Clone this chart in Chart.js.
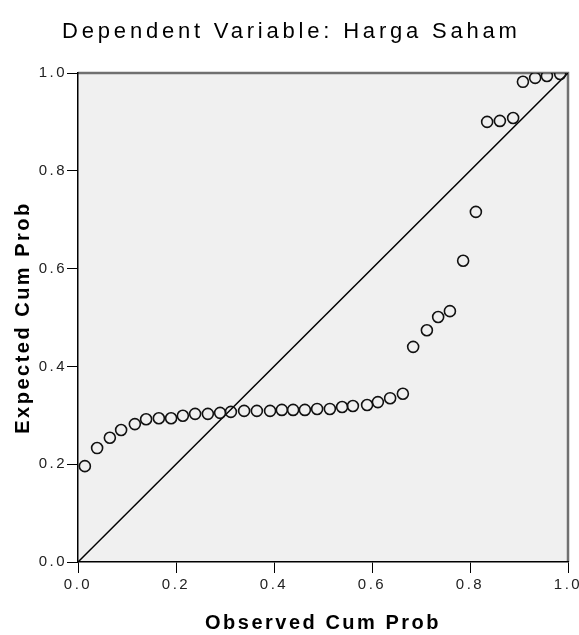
<!DOCTYPE html>
<html>
<head>
<meta charset="utf-8">
<script src="https://cdn.jsdelivr.net/npm/chart.js@4.4.1/dist/chart.umd.min.js"></script>
<style>
    html, body { margin: 0; padding: 0; background: #fff; }
    canvas { display: block; }
</style>
</head>
<body>
<canvas id="ppplot" width="579" height="635"></canvas>
<script>
// P-P plot of regression standardized residual
const chartTitle = 'Dependent Variable: Harga Saham';
const xTitle = 'Observed Cum Prob';
const yTitle = 'Expected Cum Prob';

const obsCumProb = [0.014, 0.039, 0.065, 0.088, 0.116, 0.139, 0.165, 0.190, 0.214, 0.239,
                    0.265, 0.290, 0.312, 0.339, 0.365, 0.392, 0.416, 0.439, 0.463, 0.488,
                    0.514, 0.539, 0.561, 0.590, 0.612, 0.637, 0.663, 0.684, 0.712, 0.735,
                    0.759, 0.786, 0.812, 0.835, 0.861, 0.888, 0.908, 0.933, 0.957, 0.984];
const expCumProb = [0.196, 0.233, 0.254, 0.270, 0.282, 0.292, 0.294, 0.294, 0.299, 0.303,
                    0.303, 0.305, 0.307, 0.309, 0.309, 0.309, 0.311, 0.311, 0.311, 0.313,
                    0.313, 0.317, 0.319, 0.321, 0.327, 0.335, 0.344, 0.440, 0.474, 0.501,
                    0.513, 0.616, 0.716, 0.900, 0.902, 0.908, 0.982, 0.990, 0.994, 0.998];

const refLineX = [0, 1];
const refLineY = [0, 1];

const tickValues = [0, 0.2, 0.4, 0.6, 0.8, 1.0];

window.onload = function() {
    ppplot();
};

function ppplot() {
    const ctx = document.getElementById('ppplot').getContext('2d');

    const points = obsCumProb.map((x, i) => ({ x: x, y: expCumProb[i] }));
    const line = refLineX.map((x, i) => ({ x: x, y: refLineY[i] }));

    // spss-like spaced text + grey plot frame
    const spssLook = {
        id: 'spssLook',
        beforeLayout(chart) {
            chart.ctx.letterSpacing = '2.5px';
        },
        beforeDraw(chart) {
            const c = chart.ctx;
            const a = chart.chartArea;
            c.letterSpacing = '2.5px';
            c.save();
            c.fillStyle = '#f0f0f0';
            c.fillRect(a.left, a.top, a.right - a.left, a.bottom - a.top);
            c.strokeStyle = '#707070';
            c.lineWidth = 2.5;
            c.beginPath();
            c.moveTo(a.left, a.top);
            c.lineTo(a.right, a.top);
            c.lineTo(a.right, a.bottom);
            c.stroke();
            c.restore();
        },
        afterDraw(chart) {
            const c = chart.ctx;
            c.save();
            c.letterSpacing = '3.8px';
            c.font = '22px "Liberation Sans", Arial, sans-serif';
            c.fillStyle = '#000';
            c.textAlign = 'center';
            c.textBaseline = 'alphabetic';
            c.fillText(chartTitle, chart.width / 2 + 1.9, 37.5);
            c.restore();
        }
    };

    const tickFont = { family: '"Liberation Sans", Arial, sans-serif', size: 15 };
    const titleFont = { family: '"Liberation Sans", Arial, sans-serif', size: 20, weight: 'bold' };

    new Chart(ctx, {
        type: 'scatter',
        data: {
            datasets: [
                {
                    label: 'Observed',
                    data: points,
                    pointStyle: 'circle',
                    pointRadius: 5.5,
                    pointHoverRadius: 5.5,
                    pointBorderWidth: 1.6,
                    borderColor: '#111',
                    backgroundColor: 'rgba(0,0,0,0)'
                },
                {
                    type: 'line',
                    label: 'Reference',
                    data: line,
                    borderColor: '#000',
                    borderWidth: 1.5,
                    pointRadius: 0,
                    fill: false
                }
            ]
        },
        options: {
            responsive: false,
            animation: false,
            layout: {
                padding: { top: 73, right: 11, bottom: 0, left: 0 }
            },
            plugins: {
                legend: { display: false },
                tooltip: { enabled: false },
                title: { display: false }
            },
            scales: {
                x: {
                    type: 'linear',
                    min: 0,
                    max: 1,
                    afterBuildTicks: function(scale) {
                        scale.ticks = tickValues.map(v => ({ value: v }));
                    },
                    afterFit: function(scale) {
                        scale.height = 73;
                        scale.paddingLeft = 0;
                        scale.paddingRight = 0;
                    },
                    grid: {
                        drawOnChartArea: false,
                        drawTicks: true,
                        tickLength: 11,
                        color: '#000',
                        lineWidth: 1
                    },
                    border: { display: true, color: '#000', width: 1.5 },
                    ticks: {
                        font: tickFont,
                        color: '#222',
                        padding: 3,
                        maxRotation: 0,
                        callback: function(value) {
                            return value.toFixed(1);
                        }
                    },
                    title: {
                        display: true,
                        text: xTitle,
                        font: titleFont,
                        color: '#000',
                        padding: { top: 0, bottom: 0 }
                    }
                },
                y: {
                    type: 'linear',
                    min: 0,
                    max: 1,
                    afterBuildTicks: function(scale) {
                        scale.ticks = tickValues.map(v => ({ value: v }));
                    },
                    afterFit: function(scale) {
                        scale.width = 78;
                        scale.paddingTop = 0;
                        scale.paddingBottom = 0;
                    },
                    grid: {
                        drawOnChartArea: false,
                        drawTicks: true,
                        tickLength: 11,
                        color: '#000',
                        lineWidth: 1
                    },
                    border: { display: true, color: '#000', width: 1.5 },
                    ticks: {
                        font: tickFont,
                        color: '#222',
                        padding: 0,
                        callback: function(value) {
                            return value.toFixed(1);
                        }
                    },
                    title: {
                        display: true,
                        text: yTitle,
                        font: titleFont,
                        color: '#000',
                        padding: { top: 11, bottom: 0 }
                    }
                }
            }
        },
        plugins: [spssLook]
    });
}
</script>
</body>
</html>
